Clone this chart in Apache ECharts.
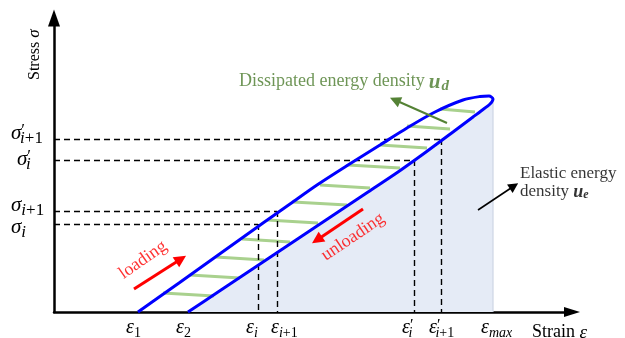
<!DOCTYPE html>
<html>
<head>
<meta charset="utf-8">
<script src="https://cdn.jsdelivr.net/npm/echarts@6/dist/echarts.min.js"></script>
<style>
  html, body { margin: 0; padding: 0; background: #fff; }
  #chart { width: 625px; height: 338px; }
</style>
</head>
<body>
<div id="chart"></div>
<script>
// Diagram units: strain along x, stress along y (origin at the axes corner)

// Marked strain values on the x axis and their labels
const strainTicks  = [84, 134, 204, 223, 360, 387, 439];
const strainLabels = [
  '{e|ε}{n|1}',
  '{e|ε}{n|2}',
  '{e|ε}{i|i}',
  '{w| }{e|ε}{i|i}{n|+1}',
  '{e|ε}{q|′}{j|i}',
  '{e|ε}{q|′}{j|i}{n|+1}',
  '{e|ε}{i|max}'
];

// Marked stress values on the y axis and their labels
// (style suffix U/Z/D = label set slightly above / on / below its level)
const stressTicks  = [88, 101, 152, 173];
const stressLabels = [
  '{eD|σ}{iD|i}',
  '{eU|σ}{iU|i}{nU|+1}',
  '{w| }{eZ|σ}{qZ|′}{jZ|i}',
  '{eU|σ}{qU|′}{jU|i}{nU|+1}'
];

// Hysteresis loop: loading branch up to the peak, then the unloading branch back down
const loadStrain   = [84, 125, 167, 209, 236, 263, 294, 326, 353, 381, 409, 426, 435, 439];
const loadStress   = [0, 29, 59, 89, 108, 127, 147, 167, 184, 200, 212, 215.5, 216, 213];
const unloadStrain = [436, 427, 419, 399, 372, 344, 314, 284, 254, 224, 194, 164, 134];
const unloadStress = [208, 201, 195, 180, 160, 140, 120, 100, 80, 60, 40, 20, 0];

// Hatching between the two branches (dissipated energy), slightly tilted
const hatchFrom    = [109, 136, 162, 188, 213, 239, 266, 294, 326, 353, 386];
const hatchTo      = [160, 186, 210, 236, 264, 293, 316, 346, 373, 396, 421];
const hatchStressL = [19, 37, 55, 73, 92, 110, 127, 147, 167, 186, 203];
const hatchStressR = [16, 34, 52, 70, 89, 107, 124, 144, 164, 183, 200];

// Annotation arrows: [start, end] in diagram units
const loadingArrow   = [[80, 23], [127, 53]];
const unloadingArrow = [[309, 103], [263, 72]];
const dissipArrow    = [[393, 189], [341, 212]];
const elasticArrow   = [[424, 102], [460, 126]];

// Text anchors
const dissipTextAt    = [290, 229];
const elasticTextAt   = [466, 129];
const loadingTextAt   = [89, 52];
const unloadingTextAt = [299, 75];

const serif = '"Liberation Serif", "Times New Roman", serif';

const mathRich = {
  e: { fontFamily: serif, fontStyle: 'italic', fontSize: 20, lineHeight: 22, verticalAlign: 'top', color: '#000' },
  q: { fontFamily: serif, fontSize: 16, lineHeight: 12, verticalAlign: 'top', color: '#000' },
  i: { fontFamily: serif, fontStyle: 'italic', fontSize: 14, lineHeight: 14, verticalAlign: 'bottom', color: '#000' },
  j: { fontFamily: serif, fontStyle: 'italic', fontSize: 14, lineHeight: 14, verticalAlign: 'bottom', color: '#000', padding: [0, 0, 0, -5] },
  n: { fontFamily: serif, fontSize: 14, lineHeight: 14, verticalAlign: 'bottom', color: '#000' },
  w: { width: 6, fontSize: 1 }
};

// Stress labels: compact line boxes, vertical offsets made with padding
function shiftPad(dy, left) {
  return dy >= 0 ? [2 * dy, 0, 0, left || 0] : [0, 0, -2 * dy, left || 0];
}
const yRich = { w: { width: 6, fontSize: 1, lineHeight: 8 } };
[['U', -6], ['Z', -1], ['D', 3]].forEach(([k, dy]) => {
  yRich['e' + k] = { fontFamily: serif, fontStyle: 'italic', fontSize: 21, lineHeight: 8, color: '#000', padding: shiftPad(dy) };
  yRich['q' + k] = { fontFamily: serif, fontSize: 17, lineHeight: 8, color: '#000', padding: shiftPad(dy - 2) };
  yRich['i' + k] = { fontFamily: serif, fontStyle: 'italic', fontSize: 17, lineHeight: 8, color: '#000', padding: shiftPad(dy + 6) };
  yRich['j' + k] = { fontFamily: serif, fontStyle: 'italic', fontSize: 17, lineHeight: 8, color: '#000', padding: shiftPad(dy + 6, -5) };
  yRich['n' + k] = { fontFamily: serif, fontSize: 17, lineHeight: 8, color: '#000', padding: shiftPad(dy + 6) };
});

const pts = (xs, ys) => xs.map((x, k) => [x, ys[k]]);
const loopPts = pts(loadStrain, loadStress).concat(pts(unloadStrain, unloadStress));

// Elastic region: under the unloading branch, closed at the peak strain
const peak = [loadStrain[loadStrain.length - 1], loadStress[loadStress.length - 1]];
const fillPts = pts(unloadStrain, unloadStress).reverse().concat([peak, [strainTicks[6], 0]]);

// Projection lines from the marked points to both axes
const dashData = [];
for (let k = 0; k < 4; k++) {
  const x = strainTicks[k + 2], y = stressTicks[k];
  dashData.push({ coords: [[0, y], [x, y]] });
  dashData.push({ coords: [[x, y], [x, 0]] });
}

function arrowSeries(coords, color, width, size) {
  return {
    type: 'lines', coordinateSystem: 'cartesian2d', silent: true, z: 6,
    symbol: ['none', 'triangle'], symbolSize: size,
    lineStyle: { color: color, width: width, opacity: 1, curveness: 0 },
    data: [{ coords: coords }]
  };
}

// Two stacked stress axes share one scale; each carries every other label
// so that the closely spaced levels are all printed.
function stressLabelAxis(values, extra) {
  return Object.assign({
    type: 'value', min: 0, max: 294, position: 'left', offset: 0,
    axisTick: { show: false },
    splitLine: { show: false },
    axisLabel: {
      customValues: values,
      formatter: v => stressLabels[stressTicks.indexOf(v)],
      align: 'left', verticalAlign: 'middle', margin: 43,
      showMinLabel: true, showMaxLabel: true, hideOverlap: false,
      rich: yRich
    }
  }, extra);
}

const chart = echarts.init(document.getElementById('chart'), null, { renderer: 'canvas' });
chart.setOption({
  animation: false,
  backgroundColor: '#fff',
  grid: { left: 54, right: 53, top: 18, bottom: 26, containLabel: false, outerBoundsMode: 'none' },
  xAxis: {
    type: 'value', min: 0, max: 518,
    axisLine: { show: true, lineStyle: { color: '#000', width: 2.5 }, symbol: ['none', 'triangle'], symbolSize: [10, 16] },
    axisTick: { show: false },
    splitLine: { show: false },
    axisLabel: {
      customValues: strainTicks,
      formatter: v => strainLabels[strainTicks.indexOf(v)],
      align: 'left', padding: [0, 0, 0, -12], margin: 6,
      showMinLabel: true, showMaxLabel: true, hideOverlap: false,
      rich: mathRich
    },
    name: '{t|Strain }{m|ε}',
    nameLocation: 'end', nameGap: 15, nameMoveOverlap: false,
    nameTextStyle: {
      align: 'right', verticalAlign: 'top', padding: [11, 0, 0, 0],
      rich: {
        t: { fontFamily: serif, fontSize: 18, color: '#000' },
        m: { fontFamily: serif, fontStyle: 'italic', fontSize: 19, color: '#000' }
      }
    }
  },
  yAxis: [
    stressLabelAxis([stressTicks[0], stressTicks[2]], {
      axisLine: { show: true, onZero: false, lineStyle: { color: '#000', width: 2.5 }, symbol: ['none', 'triangle'], symbolSize: [12, 17] },
      name: '{t|Stress }{m|σ}',
      nameLocation: 'end', nameRotate: 90, nameGap: -62, nameMoveOverlap: false,
      nameTextStyle: {
        align: 'left', verticalAlign: 'bottom', padding: [0, 0, 11, 0],
        rich: {
          t: { fontFamily: serif, fontSize: 16, color: '#000' },
          m: { fontFamily: serif, fontStyle: 'italic', fontSize: 17, color: '#000' }
        }
      }
    }),
    stressLabelAxis([stressTicks[1], stressTicks[3]], {
      axisLine: { show: false }
    })
  ],
  series: [
    {
      // elastic energy density region
      type: 'line', data: fillPts, showSymbol: false, silent: true, z: 1,
      lineStyle: { color: '#cdd5e4', width: 1.2 },
      areaStyle: { color: '#e5ebf6', opacity: 1 }
    },
    {
      // dissipated energy hatching
      type: 'lines', coordinateSystem: 'cartesian2d', silent: true, z: 2,
      lineStyle: { color: '#a9d18e', width: 3, opacity: 1 },
      data: hatchFrom.map((x, k) => ({ coords: [[x, hatchStressL[k]], [hatchTo[k], hatchStressR[k]]] }))
    },
    {
      type: 'lines', coordinateSystem: 'cartesian2d', silent: true, z: 3,
      lineStyle: { color: '#000', width: 1.4, type: [6, 4], opacity: 1 },
      data: dashData
    },
    {
      // hysteresis loop
      type: 'line', data: loopPts, showSymbol: false, silent: true, z: 4,
      smooth: 0.3,
      lineStyle: { color: '#0000ff', width: 3 }
    },
    arrowSeries(loadingArrow, '#ff0000', 3, [11, 12]),
    arrowSeries(unloadingArrow, '#ff0000', 3, [11, 12]),
    arrowSeries(dissipArrow, '#548235', 2, [10, 11]),
    arrowSeries(elasticArrow, '#000', 1.6, [8, 10]),
    {
      type: 'scatter', symbolSize: 0, silent: true, z: 7,
      data: [
        {
          value: dissipTextAt,
          label: {
            show: true, position: 'inside',
            formatter: '{g|Dissipated energy density}{u|u}{d|d}',
            rich: {
              g: { fontFamily: serif, fontSize: 18, color: '#4a7a2c', lineHeight: 22, verticalAlign: 'top' },
              u: { fontFamily: serif, fontStyle: 'italic', fontWeight: 'bold', fontSize: 21, color: '#4a7a2c', lineHeight: 22, verticalAlign: 'top', padding: [0, 1, 0, 4] },
              d: { fontFamily: serif, fontStyle: 'italic', fontWeight: 'bold', fontSize: 15, color: '#4a7a2c', lineHeight: 13, verticalAlign: 'bottom' }
            }
          }
        },
        {
          value: elasticTextAt,
          label: {
            show: true, position: 'right', distance: 0,
            formatter: '{t|Elastic energy}\n{t|density }{u|u}{d|e}',
            rich: {
              t: { fontFamily: serif, fontSize: 17, color: '#000', lineHeight: 18 },
              u: { fontFamily: serif, fontStyle: 'italic', fontWeight: 'bold', fontSize: 18, color: '#000', lineHeight: 18 },
              d: { fontFamily: serif, fontStyle: 'italic', fontWeight: 'bold', fontSize: 12, color: '#000', lineHeight: 12, verticalAlign: 'bottom', padding: [6, 0, 0, 0] }
            }
          }
        },
        {
          value: loadingTextAt,
          label: {
            show: true, position: 'inside', rotate: 35,
            formatter: 'loading',
            fontFamily: serif, fontSize: 18, color: '#ff0000'
          }
        },
        {
          value: unloadingTextAt,
          label: {
            show: true, position: 'inside', rotate: 34,
            formatter: 'unloading',
            fontFamily: serif, fontSize: 18, color: '#ff0000'
          }
        }
      ]
    }
  ]
});
</script>
</body>
</html>
